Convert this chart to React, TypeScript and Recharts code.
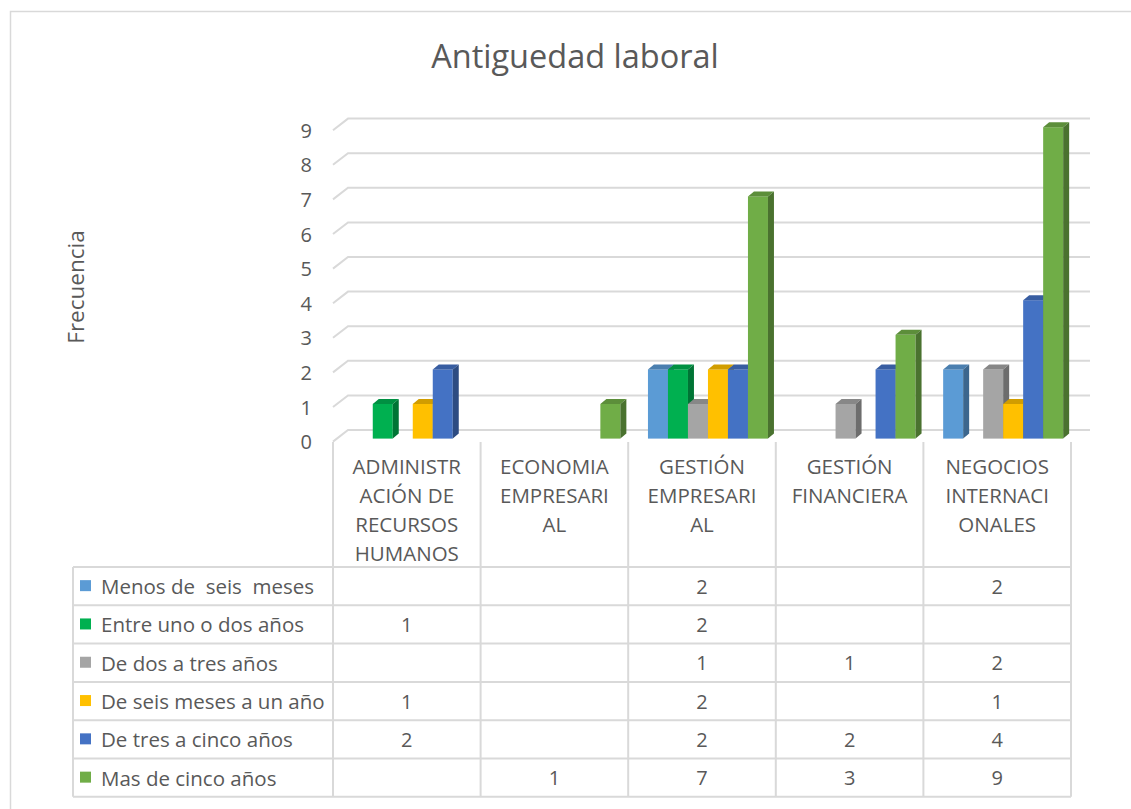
import React from "react";
import { BarChart, Bar, XAxis, YAxis, CartesianGrid, Customized } from "recharts";

const categories = [
  "ADMINISTRACIÓN DE RECURSOS HUMANOS",
  "ECONOMIA EMPRESARIAL",
  "GESTIÓN EMPRESARIAL",
  "GESTIÓN FINANCIERA",
  "NEGOCIOS INTERNACIONALES",
];
const categoryLines = [
  ["ADMINISTR", "ACIÓN DE", "RECURSOS", "HUMANOS"],
  ["ECONOMIA", "EMPRESARI", "AL"],
  ["GESTIÓN", "EMPRESARI", "AL"],
  ["GESTIÓN", "FINANCIERA"],
  ["NEGOCIOS", "INTERNACI", "ONALES"],
];

const seriesNames = [
  "Menos de  seis  meses",
  "Entre uno o dos años",
  "De dos a tres años",
  "De seis meses a un año",
  "De tres a cinco años",
  "Mas de cinco años",
];
const seriesColors = ["#5B9BD5", "#00B050", "#A5A5A5", "#FFC000", "#4472C4", "#70AD47"];

const menosSeis = [null, null, 2, null, 2];
const entreUnoDos = [1, null, 2, null, null];
const dosTres = [null, null, 1, 1, 2];
const seisUno = [1, null, 2, null, 1];
const tresCinco = [2, null, 2, 2, 4];
const masCinco = [null, 1, 7, 3, 9];
const seriesValues = [menosSeis, entreUnoDos, dosTres, seisUno, tresCinco, masCinco];

const yTicks = [0, 1, 2, 3, 4, 5, 6, 7, 8, 9];

const data = categories.map((name, i) => {
  const row: Record<string, string | number | null> = { name };
  seriesValues.forEach((vals, s) => {
    row["s" + s] = vals[i];
  });
  return row;
});

const FONT = "'Open Sans', sans-serif";
const TXT = "#595959";
const LINE = "#D9D9D9";

const PLOT_L = 333;
const PLOT_R = 1071;
const COL_W = (PLOT_R - PLOT_L) / categories.length;
const TABLE_TOP = 567;
const ROW_H = 38.3;
const TABLE_L = 73;

function shade(hex: string, f: number) {
  const n = parseInt(hex.slice(1), 16);
  const r = Math.round(((n >> 16) & 255) * f);
  const g = Math.round(((n >> 8) & 255) * f);
  const b = Math.round((n & 255) * f);
  return `rgb(${r},${g},${b})`;
}

function Bar3D(props: any) {
  const { x, y, width, height, fill, value } = props;
  if (value == null || !height || height <= 0) return null;
  const s = 5;
  const dx = 6;
  const dy = 5;
  const x0 = x + s;
  const x1 = x0 + width;
  return (
    <g>
      <rect x={x0} y={y} width={width} height={height} fill={fill} />
      <polygon
        points={`${x0},${y} ${x0 + dx},${y - dy} ${x1 + dx},${y - dy} ${x1},${y}`}
        fill={shade(fill, 0.82)}
      />
      <polygon
        points={`${x1},${y} ${x1 + dx},${y - dy} ${x1 + dx},${y + height - dy} ${x1},${y + height}`}
        fill={shade(fill, 0.66)}
      />
    </g>
  );
}

function GridLine3D(props: any) {
  const { x1, y1, x2 } = props;
  return (
    <path
      d={`M${x1} ${y1 + 3} L${x1 + 15} ${y1 - 8.6} L${x2 + 19} ${y1 - 8.6}`}
      stroke={LINE}
      strokeWidth={2}
      fill="none"
    />
  );
}

function YTick(props: any) {
  const { y, payload } = props;
  return (
    <text x={312} y={y + 3} textAnchor="end" dominantBaseline="central" fill={TXT} fontSize={20} fontFamily={FONT}>
      {payload.value}
    </text>
  );
}

// each category tick draws its header and the table column beneath it
function XTick(props: any) {
  const { x, index } = props;
  const right = x + COL_W / 2;
  return (
    <g>
      {categoryLines[index].map((line, k) => (
        <text key={k} x={x} y={466 + k * 29} textAnchor="middle" dominantBaseline="central" fill={TXT} fontSize={20.5} fontFamily={FONT}>
          {line}
        </text>
      ))}
      {seriesValues.map((vals, s) =>
        vals[index] == null ? null : (
          <text key={"v" + s} x={x} y={TABLE_TOP + ROW_H * (s + 0.5)} textAnchor="middle" dominantBaseline="central" fill={TXT} fontSize={20} fontFamily={FONT}>
            {vals[index]}
          </text>
        )
      )}
      <line x1={right} y1={442} x2={right} y2={TABLE_TOP + ROW_H * 6} stroke={LINE} strokeWidth={2} />
    </g>
  );
}

function TableFrame() {
  const bottom = TABLE_TOP + ROW_H * 6;
  return (
    <g>
      <rect x={10.5} y={11.5} width={1200} height={900} fill="none" stroke={LINE} strokeWidth={1.5} />
      <text x={575} y={55} textAnchor="middle" dominantBaseline="central" fill={TXT} fontSize={32.5} fontFamily={FONT}>
        Antiguedad laboral
      </text>
      <text x={75} y={287} transform="rotate(-90 75 287)" textAnchor="middle" dominantBaseline="central" fill={TXT} fontSize={22.5} fontFamily={FONT}>
        Frecuencia
      </text>
      <line x1={PLOT_L} y1={442} x2={PLOT_L} y2={bottom} stroke={LINE} strokeWidth={2} />
      <line x1={TABLE_L} y1={TABLE_TOP} x2={TABLE_L} y2={bottom} stroke={LINE} strokeWidth={2} />
      {[0, 1, 2, 3, 4, 5, 6].map((k) => (
        <line key={k} x1={TABLE_L} y1={TABLE_TOP + ROW_H * k} x2={PLOT_R} y2={TABLE_TOP + ROW_H * k} stroke={LINE} strokeWidth={2} />
      ))}
      {seriesNames.map((n, s) => (
        <g key={n}>
          <rect x={80} y={TABLE_TOP + ROW_H * (s + 0.5) - 6} width={11} height={11} fill={seriesColors[s]} />
          <text x={101} y={TABLE_TOP + ROW_H * (s + 0.5)} dominantBaseline="central" fill={TXT} fontSize={20.5} fontFamily={FONT} style={{ whiteSpace: "pre" }}>
            {n}
          </text>
        </g>
      ))}
    </g>
  );
}

export default function App() {
  return (
    <div style={{ position: "absolute", left: 0, top: 0, width: 1131, height: 809, background: "#fff" }}>
      <BarChart
        width={1131}
        height={809}
        data={data}
        margin={{ top: 127.2, right: 60, bottom: 340.4, left: 273 }}
        barCategoryGap="10%"
        barGap={0}
      >
        <Customized component={TableFrame} />
        <CartesianGrid vertical={false} horizontal={GridLine3D} />
        <XAxis dataKey="name" height={30} axisLine={false} tickLine={false} tick={XTick} interval={0} />
        <YAxis width={60} domain={[0, 9]} ticks={yTicks} axisLine={false} tickLine={false} tick={YTick} />
        {seriesNames.map((n, s) => (
          <Bar key={n} dataKey={"s" + s} name={n} fill={seriesColors[s]} shape={Bar3D} isAnimationActive={false} />
        ))}
      </BarChart>
    </div>
  );
}
